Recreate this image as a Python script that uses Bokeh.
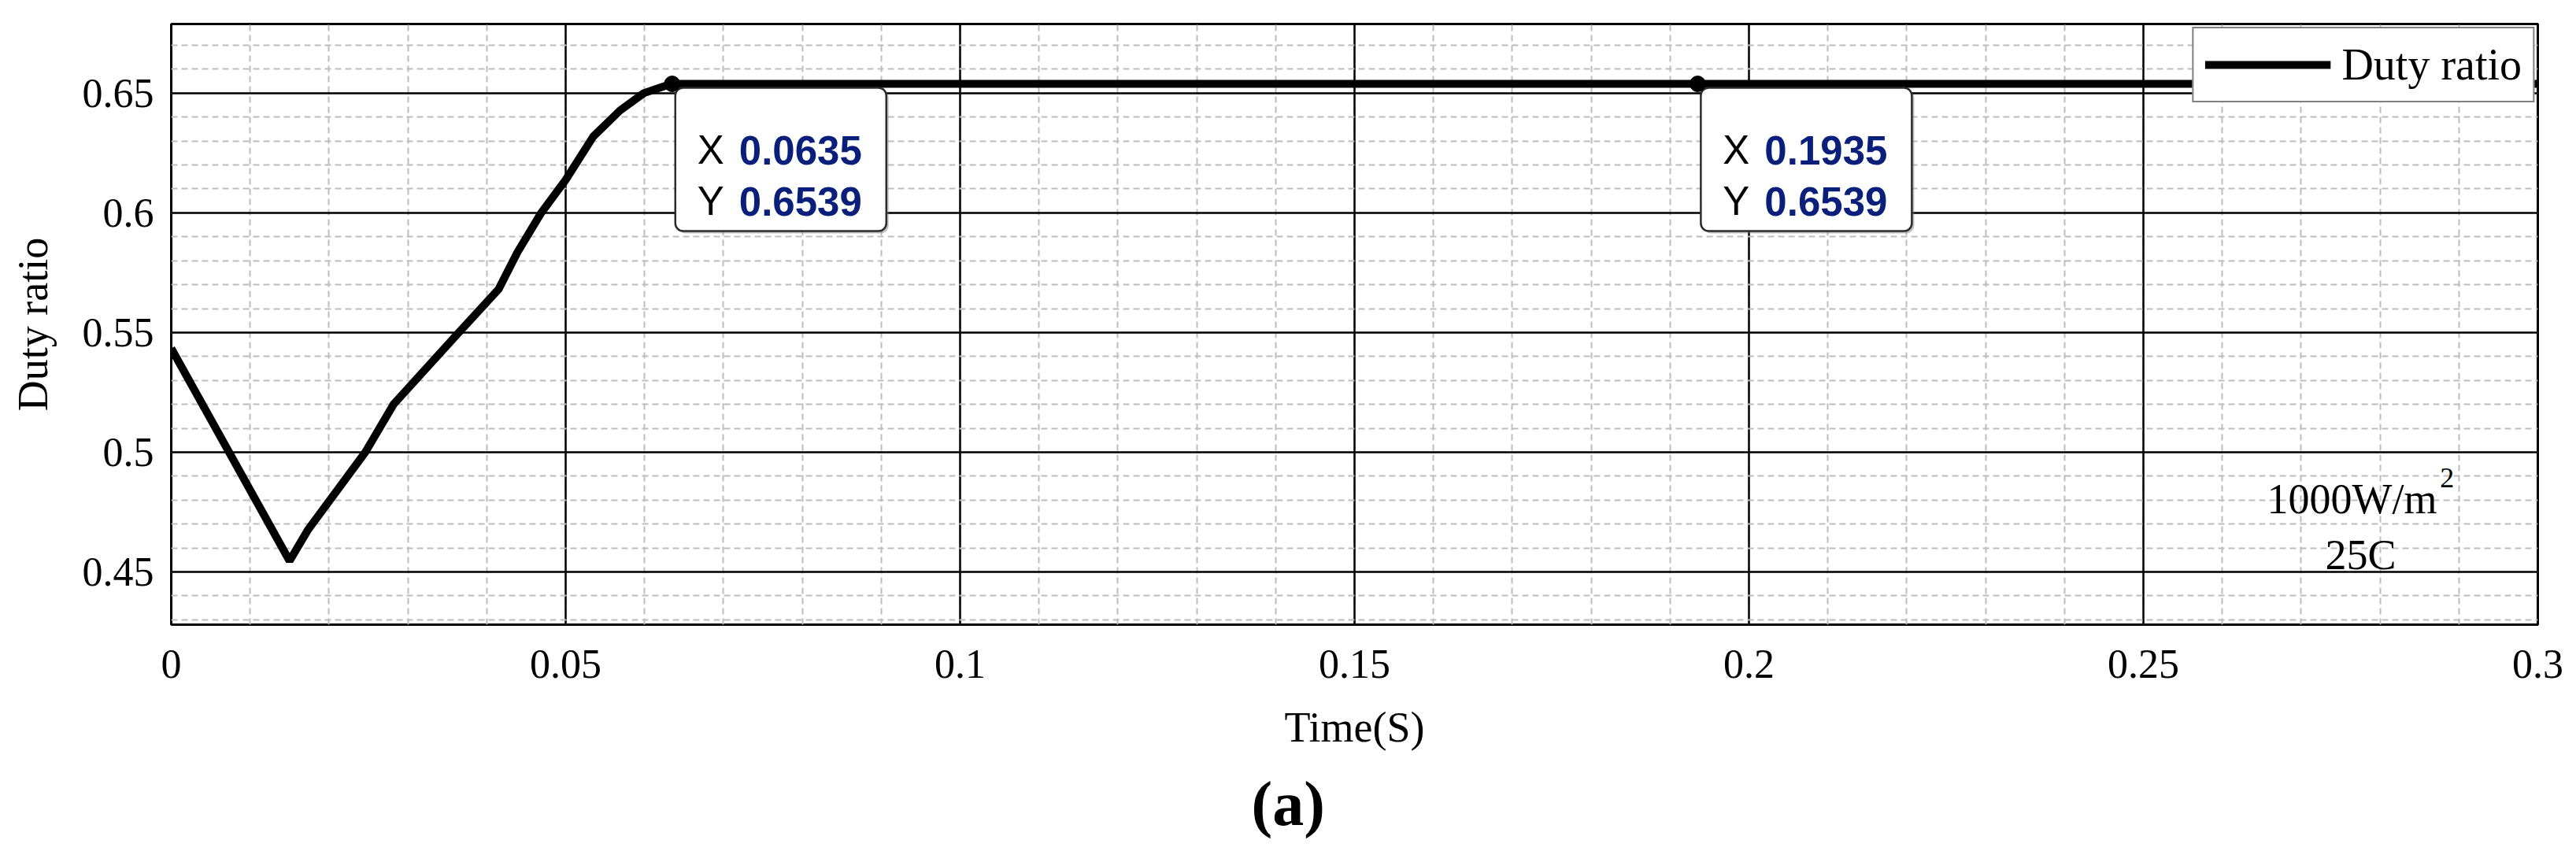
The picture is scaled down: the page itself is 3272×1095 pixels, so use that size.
from bokeh.plotting import figure
from bokeh.models import Range1d, FixedTicker, Legend, LegendItem, Label, Title
from bokeh.embed import file_html
from bokeh.resources import INLINE
from bokeh.core.properties import value

# ---- data ----
time_s = [0.0, 0.0150, 0.0173, 0.0246, 0.0282, 0.0360, 0.0415, 0.0439, 0.0469,
          0.0500, 0.0535, 0.0569, 0.0599, 0.0622, 0.0635, 0.1935, 0.3000]
duty = [0.5434, 0.4546, 0.4674, 0.5000, 0.5201, 0.5484, 0.5681, 0.5836, 0.6000,
        0.6138, 0.6319, 0.6428, 0.6500, 0.6526, 0.6539, 0.6539, 0.6539]

tip_x = [0.0635, 0.1935]
tip_y = [0.6539, 0.6539]
tip_x_text = ["0.0635", "0.1935"]
tip_y_text = ["0.6539", "0.6539"]

x_tick_vals = [0.0, 0.05, 0.1, 0.15, 0.2, 0.25, 0.3]
x_tick_labels = ["0", "0.05", "0.1", "0.15", "0.2", "0.25", "0.3"]
y_tick_vals = [0.45, 0.5, 0.55, 0.6, 0.65]
y_tick_labels = ["0.45", "0.5", "0.55", "0.6", "0.65"]

X0, X1 = 0.0, 0.3
Y0, Y1 = 0.42796, 0.6789

SERIF = "Liberation Serif"
SANS = "Liberation Sans"

W, H = 3256, 1095
ML, MT = 217, 30
FW, FH = 3006, 763
MR, MB = W - ML - FW, H - MT - FH

p = figure(width=W, height=H, output_backend="svg", toolbar_location=None,
           x_range=Range1d(X0, X1), y_range=Range1d(Y0, Y1),
           min_border_left=ML, min_border_right=MR, min_border_top=MT, min_border_bottom=MB)
p.background_fill_color = "white"
p.border_fill_color = "white"
p.outline_line_color = "black"
p.outline_line_width = 3

x_minor = [round(i * 0.01, 2) for i in range(0, 31)]
y_minor = [round(0.42 + i * 0.01, 2) for i in range(0, 27)]
xt = FixedTicker(ticks=x_tick_vals, minor_ticks=x_minor)
yt = FixedTicker(ticks=y_tick_vals, minor_ticks=y_minor)
p.xaxis.ticker = xt
p.yaxis.ticker = yt
p.xgrid.ticker = xt
p.ygrid.ticker = yt
p.xaxis.major_label_overrides = dict(zip(x_tick_vals, x_tick_labels))
p.yaxis.major_label_overrides = dict(zip(y_tick_vals, y_tick_labels))

for g in (p.xgrid, p.ygrid):
    g.grid_line_color = "black"
    g.grid_line_width = 2.5
    g.minor_grid_line_color = "#bdbdbd"
    g.minor_grid_line_width = 2
    g.minor_grid_line_dash = "8 5"

for ax in (p.xaxis, p.yaxis):
    ax.axis_line_color = None
    ax.major_tick_out = 0
    ax.major_tick_in = 0
    ax.minor_tick_out = 0
    ax.minor_tick_in = 0
    ax.major_label_text_font = SERIF
    ax.major_label_text_font_size = "52px"
    ax.major_label_text_color = "black"
    ax.axis_label_text_font = SERIF
    ax.axis_label_text_font_size = "54px"
    ax.axis_label_text_font_style = "normal"
    ax.axis_label_text_color = "black"

p.xaxis.axis_label = "Time(S)"
p.yaxis.axis_label = "Duty ratio"
p.xaxis.major_label_standoff = 32
p.yaxis.major_label_standoff = 22
p.xaxis.axis_label_standoff = 30
p.yaxis.axis_label_standoff = 30

# main curve
r = p.line(time_s, duty, line_width=10, color="black")

# data tips
px_x = (X1 - X0) / FW
px_y = (Y1 - Y0) / FH
box_cx = [x + 138 * px_x for x in tip_x]
box_cy = [y - 96 * px_y for y in tip_y]
shadow_cx = [x + 3 * px_x for x in box_cx]
shadow_cy = [y - 3 * px_y for y in box_cy]
p.rect(shadow_cx, shadow_cy, width=268, height=182, width_units="screen", height_units="screen",
       fill_color="#7f7f7f", fill_alpha=0.5, line_color=None, border_radius=10)
p.rect(box_cx, box_cy, width=268, height=182, width_units="screen", height_units="screen",
       fill_color="white", line_color="#2b2b2b", line_width=2.5, border_radius=10)

p.text(x=tip_x, y=tip_y, text=["X"] * len(tip_x), x_offset=32, y_offset=84,
       text_font=value(SANS), text_font_size="51px", text_color="black", text_baseline="alphabetic")
p.text(x=tip_x, y=tip_y, text=["Y"] * len(tip_x), x_offset=32, y_offset=149,
       text_font=value(SANS), text_font_size="51px", text_color="black", text_baseline="alphabetic")
p.text(x=tip_x, y=tip_y, text=tip_x_text, x_offset=85, y_offset=84,
       text_font=value(SANS), text_font_size="51px", text_font_style="bold",
       text_color="#0a1f7a", text_baseline="alphabetic")
p.text(x=tip_x, y=tip_y, text=tip_y_text, x_offset=85, y_offset=149,
       text_font=value(SANS), text_font_size="51px", text_font_style="bold",
       text_color="#0a1f7a", text_baseline="alphabetic")

p.scatter(tip_x, tip_y, size=20, color="black")

# condition annotation
p.add_layout(Label(x=0.28723, y=0.4805, text="1000W/m", text_align="right", text_baseline="alphabetic",
                   text_font=SERIF, text_font_size="54px", text_color="black"))
p.add_layout(Label(x=0.2876, y=0.4894, text="2", text_align="left", text_baseline="alphabetic",
                   text_font=SERIF, text_font_size="36px", text_color="black"))
p.add_layout(Label(x=0.27754, y=0.4571, text="25C", text_align="center", text_baseline="alphabetic",
                   text_font=SERIF, text_font_size="54px", text_color="black"))

legend = Legend(items=[LegendItem(label="Duty ratio", renderers=[r])], location="top_right",
                margin=4, padding=14, glyph_width=160, label_standoff=14,
                label_text_font=SERIF, label_text_font_size="56px", label_text_color="black",
                border_line_color="black", border_line_width=2.5, background_fill_alpha=1.0)
p.add_layout(legend)

# sub-figure tag below the axis title
p.add_layout(Title(text="(a)", align="left", offset=1372, standoff=36, text_font=SERIF,
                   text_font_size="80px", text_font_style="bold", text_color="black"), "below")

open("out.html", "w").write(file_html(p, INLINE))
